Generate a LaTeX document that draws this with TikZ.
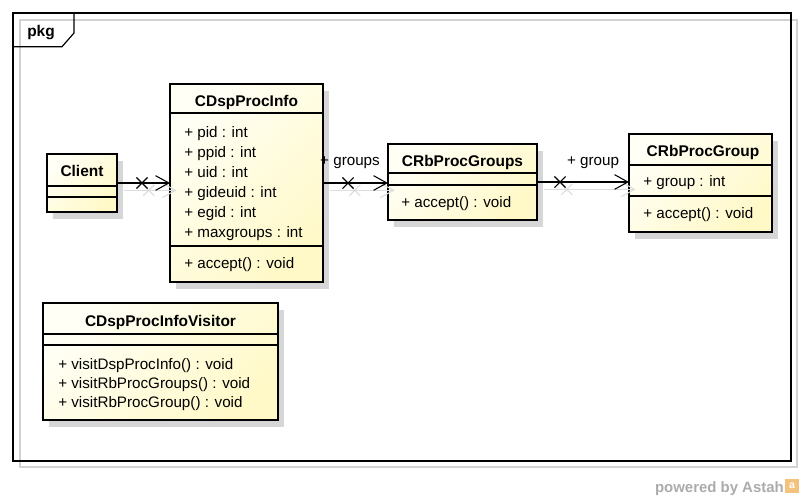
\documentclass[tikz,border=0pt]{standalone}
\usepackage{fontspec}
\setmainfont{Liberation Sans}
\usetikzlibrary{positioning,arrows.meta,calc,fit,shadows,shapes.misc}
\definecolor{ClassLight}{HTML}{FFFFF6}
\definecolor{ClassDark}{HTML}{FFF9C8}
\definecolor{ShadowGray}{HTML}{D6D6D6}
\definecolor{LinkShadow}{HTML}{DCDCDC}
\definecolor{FrameGray}{HTML}{D2D2D2}
\definecolor{AstahGray}{HTML}{ABABAB}
\definecolor{AstahOrange}{HTML}{F3C27E}

\begin{document}
\begin{tikzpicture}[
    x=0.75pt, y=-0.75pt,
    frameline/.style={line width=0.9pt},
    classbox/.style={draw, line width=2.2pt, inner sep=0pt, outer sep=0pt,
      top color=ClassLight, bottom color=ClassDark, shading angle=45,
      drop shadow={shadow xshift=4.5pt, shadow yshift=-5pt, fill=ShadowGray, opacity=1}},
    classname/.style={font=\bfseries\fontsize{11.6}{13}\selectfont, anchor=base, inner sep=0pt},
    member/.style={font=\fontsize{11.4}{13}\selectfont, anchor=base west, inner sep=0pt},
    sepline/.style={line width=0.9pt},
    assoc/.style={line width=0.8pt, -{Straight Barb[length=10pt,width=11pt,line width=0.8pt]}},
    xmark/.style={cross out, draw, line width=0.8pt, minimum size=7.5pt, inner sep=0pt},
    rolelabel/.style={font=\fontsize{11.4}{13}\selectfont, anchor=base, inner sep=0pt}
  ]
    \useasboundingbox (0,0) rectangle (804,500);

    % package frame
    \draw[FrameGray, line width=0.9pt] (20,20) rectangle (797,467);
    \node[frameline, draw, inner sep=0pt, outer sep=0pt, fit={(13,13) (791,461)}] (pkg) {};
    \draw[frameline] (13,46.7) -- (62,46.7) -- (74,33) -- (74,13);
    \node[font=\bfseries\fontsize{11.6}{13}\selectfont, anchor=base west, inner sep=0pt] (pkgname) at (27,36.7) {pkg};

    % classes
    \node[classbox, fit={(47,154) (117,212)}] (client) {};
    \node[classname] (client-name) at (82,176.7) {Client};
    \draw[sepline] ($(client.north west)+(0,32)$) -- ($(client.north east)+(0,32)$);
    \draw[sepline] ($(client.north west)+(0,43)$) -- ($(client.north east)+(0,43)$);

    \node[classbox, fit={(170,84) (323,282)}] (info) {};
    \node[classname] (info-name) at (246.5,106.7) {CDspProcInfo};
    \draw[sepline] ($(info.north west)+(0,29)$) -- ($(info.north east)+(0,29)$);
    \node[member] (info-pid) at (184,137) {+ pid : int};
    \node[member] (info-ppid) at (184,157) {+ ppid : int};
    \node[member] (info-uid) at (184,177) {+ uid : int};
    \node[member] (info-gideuid) at (184,197) {+ gideuid : int};
    \node[member] (info-egid) at (184,217) {+ egid : int};
    \node[member] (info-maxgroups) at (184,237) {+ maxgroups : int};
    \draw[sepline] ($(info.north west)+(0,162)$) -- ($(info.north east)+(0,162)$);
    \node[member] (info-accept) at (184,268) {+ accept() : void};

    \node[classbox, fit={(388,144) (537,220)}] (groups) {};
    \node[classname] (groups-name) at (462.5,166.7) {CRbProcGroups};
    \draw[sepline] ($(groups.north west)+(0,29)$) -- ($(groups.north east)+(0,29)$);
    \draw[sepline] ($(groups.north west)+(0,41)$) -- ($(groups.north east)+(0,41)$);
    \node[member] (groups-accept) at (401,207) {+ accept() : void};

    \node[classbox, fit={(629,134) (772,232)}] (group) {};
    \node[classname] (group-name) at (703,156.7) {CRbProcGroup};
    \draw[sepline] ($(group.north west)+(0,31)$) -- ($(group.north east)+(0,31)$);
    \node[member] (group-group) at (643,186.7) {+ group : int};
    \draw[sepline] ($(group.north west)+(0,62)$) -- ($(group.north east)+(0,62)$);
    \node[member] (group-accept) at (643,218) {+ accept() : void};

    \node[classbox, fit={(43,303) (278,420)}] (visitor) {};
    \node[classname] (visitor-name) at (160.5,326.7) {CDspProcInfoVisitor};
    \draw[sepline] ($(visitor.north west)+(0,31)$) -- ($(visitor.north east)+(0,31)$);
    \draw[sepline] ($(visitor.north west)+(0,42)$) -- ($(visitor.north east)+(0,42)$);
    \node[member] (visitor-info) at (58,369) {+ visitDspProcInfo() : void};
    \node[member] (visitor-groups) at (58,388) {+ visitRbProcGroups() : void};
    \node[member] (visitor-group) at (58,407.7) {+ visitRbProcGroup() : void};

    % shadows of the associations
    \begin{scope}[transform canvas={shift={(5pt,-5.5pt)}}, draw=LinkShadow, color=LinkShadow]
      \draw[assoc, LinkShadow] (client.east) -- (info.west);
      \node[xmark, LinkShadow] (client-x-s) at ($(client.east)+(25,0)$) {};
      \draw[assoc, LinkShadow] (info.east) -- (info.east -| groups.west);
      \node[xmark, LinkShadow] (info-x-s) at ($(info.east)+(25,0)$) {};
      \draw[assoc, LinkShadow] (groups.east) -- (groups.east -| group.west);
      \node[xmark, LinkShadow] (groups-x-s) at ($(groups.east)+(23,0)$) {};
    \end{scope}

    % associations
    \draw[assoc] (client.east) -- (info.west);
    \node[xmark] (client-x) at ($(client.east)+(25,0)$) {};
    \draw[assoc] (info.east) -- (info.east -| groups.west);
    \node[xmark] (info-x) at ($(info.east)+(25,0)$) {};
    \node[rolelabel] (info-role) at (350,165.7) {+ groups};
    \draw[assoc] (groups.east) -- (groups.east -| group.west);
    \node[xmark] (groups-x) at ($(groups.east)+(23,0)$) {};
    \node[rolelabel] (groups-role) at (593,165) {+ group};

    % footer
    \node[font=\bfseries\fontsize{11.2}{13}\selectfont, text=AstahGray, anchor=base east, inner sep=0pt] (powered) at (784,492) {powered by Astah};
    \node[fill=AstahOrange, inner sep=0pt, outer sep=0pt, fit={(785,479) (799,493)}] (astahicon) {};
    \node[font=\bfseries\fontsize{8}{9}\selectfont, text=white, inner sep=0pt] (astahicon-a) at (astahicon) {a};
  \end{tikzpicture}
\end{document}
